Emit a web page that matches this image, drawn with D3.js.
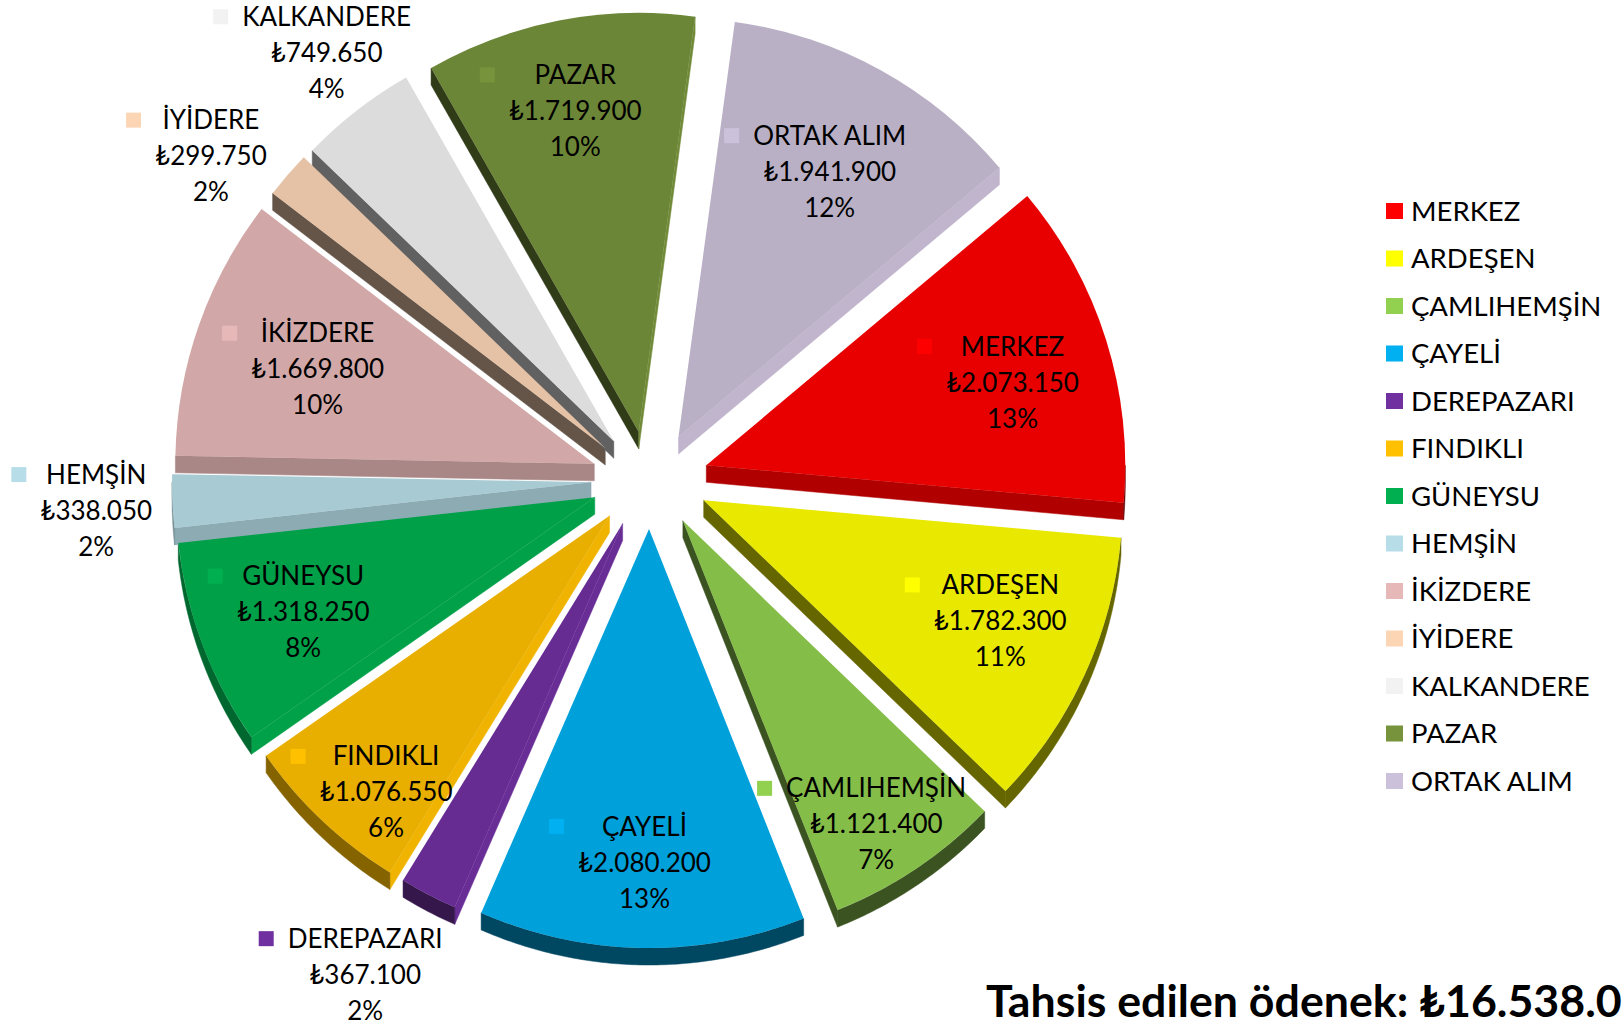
<!DOCTYPE html>
<html>
<head>
<meta charset="utf-8">
<script src="https://cdn.jsdelivr.net/npm/d3@7"></script>
<style>
  body { margin: 0; background: #fff; }
  svg { display: block; font-family: Lato, "Open Sans", "DejaVu Sans", sans-serif; }
</style>
</head>
<body>
<svg id="chart" width="1622" height="1029"></svg>
<script>
// district allocations (TL)
var districts = ["MERKEZ", "ARDEŞEN", "ÇAMLIHEMŞİN", "ÇAYELİ", "DEREPAZARI", "FINDIKLI", "GÜNEYSU",
                 "HEMŞİN", "İKİZDERE", "İYİDERE", "KALKANDERE", "PAZAR", "ORTAK ALIM"];
var amounts = [2073150, 1782300, 1121400, 2080200, 367100, 1076550, 1318250,
               338050, 1669800, 299750, 749650, 1719900, 1941900];
var palette = ["#ff0000", "#ffff00", "#92d050", "#00b0f0", "#7030a0", "#ffc000", "#00b050",
               "#b7dee8", "#e6b9b8", "#fcd5b5", "#f2f2f2", "#77933c", "#ccc1da"];
// where each data label sits: distance (share of radius) and turn (degrees) off the slice middle
var labelRadius = [0.757, 0.764, 0.859, 0.796, 1.24, 0.849, 0.748, 1.183, 0.698, 1.171, 1.153, 0.781, 0.729];
var labelTurn = [2.3, -2.4, 1.4, -0.2, 2.1, -4.4, -0.9, -0.7, -0.4, -4.2, 1.4, -0.2, 0.8];
var titleText = "Tahsis edilen ödenek: ";

var svg = d3.select("#chart");
var cx = 650, cy = 480, R = 419, depth = 17,
    explodeX = 59, explodeY = 49, startDeg = 50,
    lineH = 36, keySize = 15;
var toRad = Math.PI / 180;

var total = d3.sum(amounts);
var money = d3.formatLocale({decimal: ",", thousands: ".", grouping: [3], currency: ["₺", ""]}).format("$,.0f");

// percentages that add up to 100 (largest remainder)
var raw = amounts.map(function(v) { return v / total * 100; });
var pct = raw.map(Math.floor);
var missing = 100 - d3.sum(pct);
d3.range(amounts.length)
  .sort(function(a, b) { return (raw[b] - pct[b]) - (raw[a] - pct[a]); })
  .slice(0, missing)
  .forEach(function(i) { pct[i]++; });

function dir(a) { return [Math.sin(a), -Math.cos(a)]; }
function shade(hex, f) {
  var c = d3.rgb(hex);
  return d3.rgb(c.r * f, c.g * f, c.b * f).formatHex();
}
// brightness of a straight side wall by the way it faces
function edgeShade(n) {
  var deg = ((n / toRad) % 360 + 360) % 360;
  if (deg <= 140) return 0.94;
  if (deg <= 180) return 0.94 - (deg - 140) / 40 * 0.2;
  if (deg <= 215) return 0.74 - (deg - 180) / 35 * 0.32;
  return 0.4;
}
function arcShade(a) {
  var deg = a / toRad;
  if (deg <= 180) return 0.4;
  return 0.4 + (deg - 180) / 65 * 0.18;
}

var pie = d3.pie().sort(null)
  .value(function(d) { return d.value; })
  .startAngle(startDeg * toRad)
  .endAngle(startDeg * toRad + 2 * Math.PI);

var rows = districts.map(function(name, i) { return {name: name, value: amounts[i], index: i}; });
var slices = pie(rows);

slices.forEach(function(s) {
  s.mid = (s.startAngle + s.endAngle) / 2;
  var u = dir(s.mid);
  s.apex = [cx + explodeX * u[0], cy + explodeY * u[1]];
});

var line = d3.line();

// side walls first
var wallG = svg.append("g");
slices.forEach(function(s) {
  var col = palette[s.index];
  var P = s.apex;
  [[s.startAngle, s.startAngle - Math.PI / 2], [s.endAngle, s.endAngle + Math.PI / 2]].forEach(function(e) {
    if (Math.cos(e[1]) >= 0) return;
    var q = [P[0] + R * Math.sin(e[0]), P[1] - R * Math.cos(e[0])];
    var c = shade(col, edgeShade(e[1]));
    wallG.append("path")
      .attr("d", line([P, q, [q[0], q[1] + depth], [P[0], P[1] + depth]]) + "Z")
      .attr("fill", c).attr("stroke", c).attr("stroke-width", 0.5);
  });
  var a0 = Math.max(s.startAngle, Math.PI / 2), a1 = Math.min(s.endAngle, 1.5 * Math.PI);
  if (a1 > a0) {
    var top = d3.range(a0, a1, 0.5 * toRad).concat([a1]).map(function(a) {
      return [P[0] + R * Math.sin(a), P[1] - R * Math.cos(a)];
    });
    var bottom = top.map(function(p) { return [p[0], p[1] + depth]; }).reverse();
    var c2 = shade(col, arcShade((a0 + a1) / 2));
    wallG.append("path")
      .attr("d", line(top.concat(bottom)) + "Z")
      .attr("fill", c2).attr("stroke", c2).attr("stroke-width", 0.5);
  }
});

// top faces
var arcGen = d3.arc().innerRadius(0).outerRadius(R);
svg.append("g").selectAll("path")
  .data(slices)
  .join("path")
  .attr("transform", function(d) { return "translate(" + d.apex + ")"; })
  .attr("d", arcGen)
  .attr("fill", function(d) { return shade(palette[d.index], 0.91); });

// data labels
var labelG = svg.append("g").attr("font-size", 26).attr("fill", "#000");
slices.forEach(function(s) {
  var r = R * labelRadius[s.index];
  var u = dir(s.mid + labelTurn[s.index] * toRad);
  var x = s.apex[0] + r * u[0], y = s.apex[1] + r * u[1];
  var g = labelG.append("g").attr("transform", "translate(" + x + "," + y + ")");
  var lines = [s.data.name, money(s.data.value), pct[s.index] + "%"];
  var texts = g.selectAll("text")
    .data(lines)
    .join("text")
    .attr("text-anchor", "middle")
    .attr("y", function(d, k) { return (k - 1) * lineH; })
    .attr("dy", "0.35em")
    .text(function(d) { return d; });
  var w = d3.max(texts.nodes(), function(n) { return n.getComputedTextLength(); });
  g.append("rect")
    .attr("x", -w / 2 - 14 - keySize)
    .attr("y", -lineH - keySize / 2)
    .attr("width", keySize)
    .attr("height", keySize)
    .attr("fill", palette[s.index]);
});

// legend
var legend = svg.append("g").attr("transform", "translate(1386,211)");
districts.forEach(function(name, i) {
  legend.append("rect")
    .attr("x", 0).attr("y", i * 47.5 - 8)
    .attr("width", 17).attr("height", 16)
    .attr("fill", palette[i]);
  legend.append("text")
    .attr("x", 25).attr("y", i * 47.5)
    .attr("dy", "0.35em")
    .attr("font-size", 27.5)
    .attr("fill", "#000")
    .text(name);
});

// total line at the bottom right (runs off the edge, as in the original)
var title = svg.append("text")
  .attr("x", 986).attr("y", 1017)
  .attr("font-weight", 700)
  .attr("font-size", 44)
  .attr("fill", "#000")
  .text(titleText + money(total));
var seen = title.node().getSubStringLength(0, titleText.length + 9);
title.attr("font-size", 44 * 636 / seen);
</script>
</body>
</html>
